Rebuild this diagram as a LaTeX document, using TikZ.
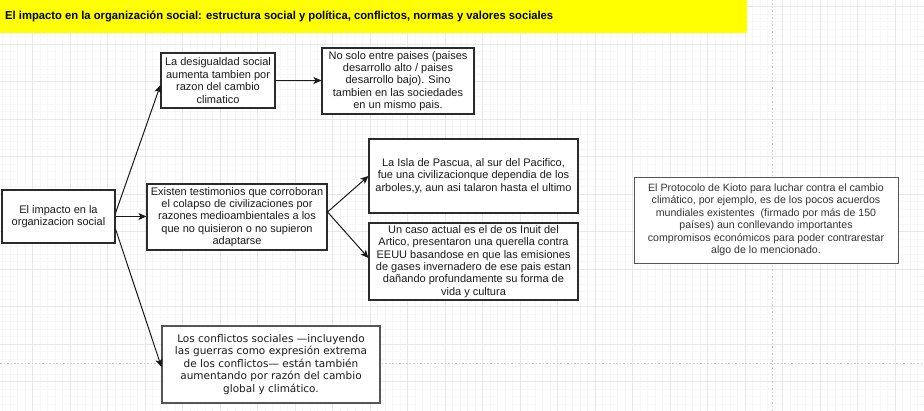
\documentclass[tikz,border=0pt]{standalone}
\usepackage{fontspec}
\setmainfont{Liberation Sans}
\newfontfamily\verd{DejaVu Sans}
\usetikzlibrary{arrows.meta}
\definecolor{gridminor}{HTML}{F7F7F7}
\definecolor{gridmajor}{HTML}{E8E8E8}
\definecolor{boxline}{HTML}{2B2B2B}
\definecolor{banner}{HTML}{FFFF00}
\definecolor{txt}{HTML}{1A1A1A}
\definecolor{hline}{HTML}{555555}
\definecolor{htxt}{HTML}{333333}
\tikzset{
  box/.style={draw=boxline, fill=white, line width=1.1pt, inner sep=0pt, align=center,
    text=txt, font=\fontsize{11}{12.4}\selectfont},
  gbox/.style={box, draw=hline, font=\verd\fontsize{10.5}{12.4}\selectfont},
  hbox/.style={box, draw=hline, line width=0.9pt, text=htxt, font=\fontsize{10.6}{12.5}\selectfont},
  arr/.style={draw=txt, line width=1pt, -{Stealth[length=8pt,width=7pt,inset=2pt]}},
  minorline/.style={draw=gridminor, line width=0.6pt},
  majorline/.style={draw=gridmajor, line width=0.8pt},
  pageline/.style={draw=gray!40, line width=0.8pt, dash pattern=on 1.5pt off 2pt}
}
\begin{document}
\begin{tikzpicture}[x=1pt,y=-1pt]
\useasboundingbox (0,0) rectangle (924,411);
\fill[white] (0,0) rectangle (924,411);
% grid
\foreach \i in {0,...,123} {\draw[minorline] (2.5+\i*7.5,0) -- (2.5+\i*7.5,411);}
\foreach \i in {0,...,55} {\draw[minorline] (0,6.5+\i*7.5) -- (924,6.5+\i*7.5);}
\foreach \i in {-1,...,24} {\draw[majorline] (32.5+\i*37.5,0) -- (32.5+\i*37.5,411);}
\foreach \i in {0,...,11} {\draw[majorline] (0,6.5+\i*37.5) -- (924,6.5+\i*37.5);}
\draw[pageline] (772,0) -- (772,411);
\draw[pageline] (0,363) -- (924,363);
% banner
\fill[banner] (0,0) rectangle (747,33);
\node[anchor=west, inner sep=0pt, text=black, font=\bfseries\fontsize{11.5}{13}\selectfont] (title) at (5,17)
  {\resizebox{548pt}{\height}{El impacto en la organización social: estructura social y política, conflictos, normas y valores sociales}};
% boxes
\node[box, minimum width=113pt, minimum height=53pt] (A) at (58.5,216.5)
  {El impacto en la\\organizacion social};
\node[box, minimum width=114pt, minimum height=55pt] (B) at (218,80.5)
  {La desigualdad social\\aumenta tambien por\\razon del cambio\\climatico};
\node[box, minimum width=152pt, minimum height=66pt] (C) at (398,81)
  {No solo entre paises (paises\\desarrollo alto / paises\\desarrollo bajo). Sino\\tambien en las sociedades\\en un mismo pais.};
\node[box, minimum width=180pt, minimum height=66pt] (D) at (237,217)
  {Existen testimonios que corroboran\\el colapso de civilizaciones por\\razones medioambientales a los\\que no quisieron o no supieron\\adaptarse};
\node[box, minimum width=209pt, minimum height=74pt] (E) at (473.5,176)
  {La Isla de Pascua, al sur del Pacifico,\\fue una civilizacionque dependia de los\\arboles,y, aun asi talaron hasta el ultimo};
\node[box, minimum width=209pt, minimum height=77pt] (F) at (473.5,261.5)
  {Un caso actual es el de os Inuit del\\Artico, presentaron una querella contra\\EEUU basandose en que las emisiones\\de gases invernadero de ese pais estan\\dañando profundamente su forma de\\vida y cultura};
\node[gbox, minimum width=218pt, minimum height=77pt] (G) at (271,364.5)
  {Los conflictos sociales —incluyendo\\las guerras como expresión extrema\\de los conflictos— están también\\aumentando por razón del cambio\\global y climático.};
\node[hbox, minimum width=264pt, minimum height=86pt] (H) at (766,220)
  {El Protocolo de Kioto para luchar contra el cambio\\climático, por ejemplo, es de los pocos acuerdos\\mundiales existentes~ (firmado por más de 150\\países) aun conllevando importantes\\compromisos económicos para poder contrarestar\\algo de lo mencionado.};
% connectors
\draw[arr] ([yshift=3.5pt]A.east) -- ([yshift=-4.5pt]B.west);
\draw[arr] (A.east) -- (A.east -| D.west);
\draw[arr] ([yshift=-12.5pt]A.east) -- ([yshift=-2.5pt]G.west);
\draw[arr] (B.east) -- (B.east -| C.west);
\draw[arr] ([yshift=5pt]D.east) -- (E.west);
\draw[arr] ([yshift=5pt]D.east) -- ([yshift=3.5pt]F.west);
\end{tikzpicture}
\end{document}
